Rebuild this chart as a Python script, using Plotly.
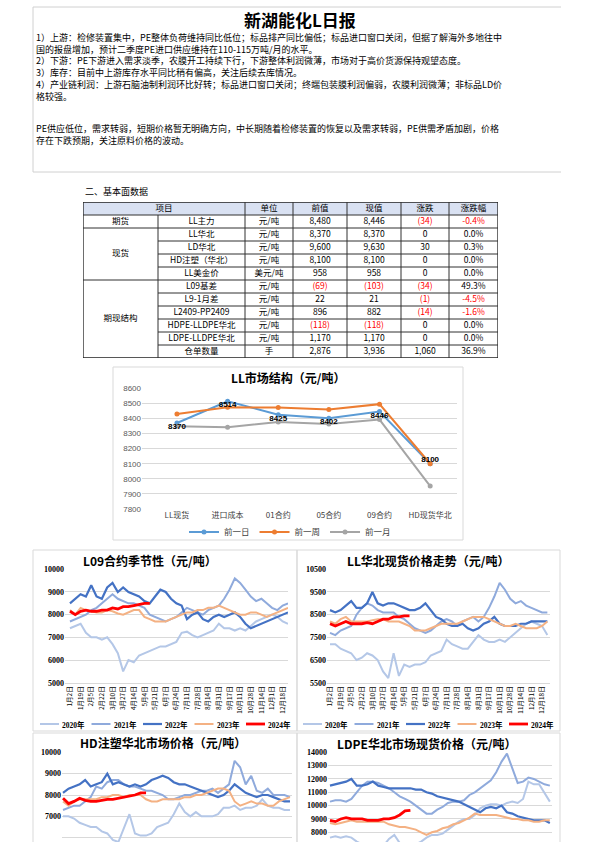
import plotly.graph_objects as go

W, H = 595, 842
def px(x): return x / W
def py(y): return 1 - y / H

CJK = "Noto Sans CJK SC"
SERIF = "Liberation Serif, Noto Sans CJK SC"

# ---------------- text ----------------
report_title = "新湖能化L日报"
report_block1 = [
    "1）上游：检修装置集中，PE整体负荷维持同比低位；标品排产同比偏低；标品进口窗口关闭，但据了解海外多地往中",
    "国的报盘增加，预计二季度PE进口供应维持在110-115万吨/月的水平。",
    "2）下游：PE下游进入需求淡季，农膜开工持续下行，下游整体利润微薄，市场对于高价货源保持观望态度。",
    "3）库存：目前中上游库存水平同比稍有偏高，关注后续去库情况。",
    "4）产业链利润：上游石脑油制利润环比好转；标品进口窗口关闭；终端包装膜利润偏弱，农膜利润微薄；非标品LD价",
    "格较强。",
]
report_block2 = [
    "PE供应低位，需求转弱，短期价格暂无明确方向，中长期随着检修装置的恢复以及需求转弱，PE供需矛盾加剧，价格",
    "存在下跌预期，关注原料价格的波动。",
]
section_title = "二、基本面数据"

# ---------------- table ----------------
table_header = ["项目", "单位", "前值", "现值", "涨跌", "涨跌幅"]
table_groups = ["期货", "现货", "期现结构"]
table_group_sizes = [1, 4, 6]
table_items = ["LL主力", "LL华北", "LD华北", "HD注塑（华北）", "LL美金价", "L09基差", "L9-1月差",
               "L2409-PP2409", "HDPE-LLDPE华北", "LDPE-LLDPE华北", "仓单数量"]
table_units = ["元/吨", "元/吨", "元/吨", "元/吨", "美元/吨", "元/吨", "元/吨", "元/吨", "元/吨", "元/吨", "手"]
table_prev = [8480, 8370, 9600, 8100, 958, -69, 22, 896, -118, 1170, 2876]
table_curr = [8446, 8370, 9630, 8100, 958, -103, 21, 882, -118, 1170, 3936]
table_change = [-34, 0, 30, 0, 0, -34, -1, -14, 0, 0, 1060]
table_pct = [-0.4, 0.0, 0.3, 0.0, 0.0, 49.3, -4.5, -1.6, 0.0, 0.0, 36.9]

# ---------------- LL market structure ----------------
struct_title = "LL市场结构（元/吨）"
struct_categories = ["LL现货", "进口成本", "01合约", "05合约", "09合约", "HD现货华北"]
struct_names = ["前一日", "前一周", "前一月"]
struct_day = [8370, 8514, 8425, 8402, 8446, 8100]
struct_week = [8430, 8474, 8472, 8460, 8495, 8100]
struct_month = [8348, 8342, 8376, 8364, 8393, 7952]

# ---------------- seasonal charts ----------------
season_years = ["2020年", "2021年", "2022年", "2023年", "2024年"]
season_dates = ["1月2日", "1月19日", "2月5日", "2月22日", "3月10日", "3月27日", "4月14日", "5月4日",
                "5月21日", "6月7日", "6月24日", "7月11日", "7月28日", "8月14日", "8月31日", "9月17日",
                "10月11日", "10月28日", "11月14日", "12月1日", "12月18日"]

l09_2020 = [7400, 7500, 7600, 7200, 7000, 7000, 6900, 7000, 6700, 6300, 5500, 6000, 5900, 6200, 6300, 6400,
            6500, 6600, 6600, 6700, 6800, 7200, 7250, 7100, 7000, 7100, 7200, 7300, 7600, 7400, 7400, 7300,
            7400, 7300, 7500, 7700, 7800, 7900, 8000, 7900, 7700, 7600]
l09_2021 = [7700, 7800, 7900, 8000, 8200, 8300, 8500, 8700, 8900, 8700, 8600, 8500, 8500, 8400, 8300, 8000,
            7900, 7800, 7700, 7800, 7900, 8100, 8300, 8200, 8100, 8000, 8200, 8300, 8400, 8700, 9100, 9600,
            9400, 9100, 8800, 8600, 8700, 8500, 8300, 8200, 8400, 8500]
l09_2022 = [8500, 8700, 8900, 8800, 9300, 8800, 8700, 9200, 9400, 9000, 9200, 9000, 8900, 8800, 8600, 8500,
            8800, 9100, 9000, 8700, 8500, 8400, 7800, 8000, 8100, 7800, 7700, 7900, 8000, 7900, 8000, 8100,
            7900, 7600, 7400, 7500, 7600, 7700, 7800, 7900, 8000, 8100]
l09_2023 = [8200, 8000, 8300, 8200, 8150, 8100, 8100, 8200, 8150, 8050, 8000, 8100, 8200, 8200, 7900, 7800,
            7700, 7700, 7700, 7800, 7900, 8000, 8100, 8100, 8200, 8200, 8300, 8300, 8400, 8300, 8200, 8100,
            8000, 8000, 8100, 8100, 8000, 7900, 8000, 8100, 8200, 8300]
l09_2024 = [8150, 8000, 8150, 8200, 8150, 8150, 8200, 8200, 8300, 8250, 8350, 8350, 8400, 8450, 8500, 8500]

ll_2020 = [7200, 7200, 7000, 6900, 6800, 6500, 6600, 6800, 6700, 6500, 6000, 5700, 6800, 5800, 6300, 6200,
           6300, 6300, 6400, 6700, 6800, 6900, 7400, 7200, 7100, 7000, 7000, 7300, 7600, 7400, 7300, 7300,
           7400, 7300, 7500, 7700, 7900, 8100, 8200, 8100, 8000, 7600]
ll_2021 = [7700, 7600, 7800, 7900, 8000, 8500, 8800, 9000, 8900, 8700, 8600, 8600, 8600, 8400, 8300, 8100,
           7900, 7800, 7700, 7800, 8000, 8200, 8300, 8200, 8000, 8200, 8300, 8400, 8200, 8400, 8800, 9300,
           9900, 9600, 9200, 9000, 9100, 8900, 8800, 8700, 8600, 8600]
ll_2022 = [8700, 8600, 8700, 8900, 9100, 8800, 8800, 9000, 9500, 9000, 8900, 9000, 9000, 8900, 8800, 8700,
           8700, 8800, 9000, 8700, 8400, 8300, 8100, 8000, 8000, 8100, 7900, 7800, 7900, 8100, 8200, 8400,
           8100, 8000, 8000, 8000, 8100, 8100, 8200, 8200, 8200, 8200]
ll_2023 = [8200, 8100, 8300, 8400, 8200, 8200, 8200, 8200, 8250, 8300, 8300, 8200, 8200, 8200, 8100, 8000,
           7800, 7800, 7800, 7900, 8000, 8100, 8100, 8100, 8100, 8200, 8300, 8400, 8400, 8400, 8300, 8200,
           8100, 8000, 8000, 8100, 8000, 7900, 7900, 7900, 8000, 8200]
ll_2024 = [8100, 8000, 8100, 8200, 8100, 8100, 8100, 8150, 8100, 8200, 8300, 8300, 8400, 8400, 8450, 8450]

hd_2020 = [7000, 7000, 6900, 6700, 6600, 6500, 6500, 6300, 6200, 5900, 5800, 6500, 7100, 6200, 6100, 6100,
           6200, 6500, 6600, 6700, 7100, 7600, 7200, 7000, 7200, 7000, 7000, 7000, 7100, 7400, 7400, 7500,
           7300, 7400, 7400, 7500, 7800, 7500, 7400, 7400, 7300, 7300]
hd_2021 = [7300, 7400, 7500, 7500, 7700, 7900, 8400, 8300, 8600, 8700, 8700, 8500, 8400, 8400, 8300, 8200,
           8200, 8100, 8000, 7800, 7800, 7900, 8000, 8000, 8100, 8200, 8200, 8300, 8100, 8300, 8500, 9600,
           9300, 8500, 8900, 8200, 8100, 8300, 8000, 8000, 8000, 7900]
hd_2022 = [8100, 8300, 8400, 8500, 8700, 8400, 8500, 8600, 9000, 8500, 8600, 8500, 8400, 8500, 8400, 8500,
           8700, 8800, 8900, 8800, 8600, 8500, 8500, 8400, 8300, 8200, 8100, 8000, 7900, 8000, 8200, 8500,
           8300, 8100, 8000, 7900, 8000, 8000, 7900, 7800, 7700, 7700]
hd_2023 = [7700, 7500, 7700, 7800, 7800, 7800, 7800, 7900, 7900, 8000, 8000, 7900, 8000, 8000, 8000, 7800,
           7700, 7700, 7800, 7800, 7800, 7800, 7900, 7900, 8000, 8000, 8100, 8200, 8300, 8300, 8200, 7700,
           7500, 7600, 7700, 7600, 7600, 7500, 7500, 7700, 7800, 7900]
hd_2024 = [7850, 7600, 7700, 7850, 7750, 7700, 7700, 7750, 7800, 7800, 7850, 7900, 7950, 8000, 8100, 8100]

ldpe_2020 = [7600, 7700, 7600, 7700, 7600, 7300, 7100, 7000, 6900, 6800, 7000, 7500, 7800, 7200, 7000, 7000,
             7100, 7300, 7600, 7800, 7800, 7900, 8200, 8500, 8800, 9000, 9000, 9300, 9800, 10000, 10100, 10100,
             10000, 10200, 10300, 10200, 10500, 11800, 11600, 11600, 11000, 10300]
ldpe_2021 = [10300, 10400, 10400, 10300, 10500, 11000, 11500, 11800, 11800, 11700, 11500, 11300, 11000, 10700,
             10500, 10300, 10000, 9700, 9400, 9400, 9700, 9900, 10200, 10300, 10300, 10400, 10800, 11000, 11300,
             11600, 11900, 12500, 13300, 13900, 12800, 11700, 11800, 12100, 12000, 11800, 11600, 11500]
ldpe_2022 = [11500, 11600, 11700, 11800, 12000, 11500, 11500, 11600, 11800, 11500, 11400, 11300, 11300, 11300,
             11300, 11300, 11200, 11200, 11000, 10900, 10700, 10600, 10500, 10400, 10300, 10100, 9900, 9700,
             9500, 9800, 9900, 9800, 10000, 9500, 9400, 9200, 9100, 9000, 8900, 8900, 8900, 8700]
ldpe_2023 = [8700, 8600, 8700, 8800, 8900, 8800, 8800, 8800, 8800, 8800, 8800, 8600, 8500, 8400, 8400, 8300,
             8200, 8000, 7800, 8000, 8100, 8300, 8400, 8600, 8700, 8900, 9100, 9400, 9300, 9300, 9300, 9300,
             9200, 9100, 9000, 9000, 8900, 8900, 8800, 8800, 8900, 8900]
ldpe_2024 = [8900, 8800, 9000, 9100, 9000, 9000, 9000, 8900, 8900, 8900, 9000, 9000, 9100, 9300, 9600, 9650]

STEP = 6          # trading days between samples
TICK_STEP = 12    # trading days between date labels

fig = go.Figure()
shapes, annotations = [], []

def box(x0, y0, x1, y1, color="#d9d9d9", width=1):
    shapes.append(dict(type="rect", xref="paper", yref="paper", x0=px(x0), y0=py(y1), x1=px(x1), y1=py(y0),
                       line=dict(color=color, width=width), fillcolor="rgba(0,0,0,0)", layer="below"))

def hline(x0, x1, y, color="#d0d0d0", width=1):
    shapes.append(dict(type="line", xref="paper", yref="paper", x0=px(x0), x1=px(x1), y0=py(y), y1=py(y),
                       line=dict(color=color, width=width)))

def text(x, y, s, size=9, xanchor="left", color="#000", family=CJK, weight="normal"):
    annotations.append(dict(x=px(x), y=py(y), xref="paper", yref="paper", text=s, showarrow=False,
                            xanchor=xanchor, yanchor="middle", align="left", borderpad=0,
                            font=dict(size=size, color=color, family=family, weight=weight)))

# ---- header text box ----
hline(33, 561, 7)
hline(33, 561, 172)
shapes.append(dict(type="line", xref="paper", yref="paper", x0=px(33), x1=px(33), y0=py(7), y1=py(172),
                   line=dict(color="#d0d0d0", width=1)))
text(300, 20, report_title, size=17, xanchor="center", weight="bold")
text(35, 67, "<br>".join(report_block1), size=9)
text(35, 135, "<br>".join(report_block2), size=9)
text(84, 192, section_title, size=9)

# ---- table (own axes x6/y6) ----
col_w = [75, 87, 48, 54, 54, 48, 49]
edges = [0]
for w in col_w:
    edges.append(edges[-1] + w)
TW = edges[-1]
nrows = len(table_items) + 1
centers = [(edges[i] + edges[i + 1]) / 2 for i in range(len(col_w))]
tl = dict(color="#303030", width=1)
def tshape(**kw):
    d = dict(xref="x6", yref="y6", line=tl)
    d.update(kw)
    shapes.append(d)
tshape(type="rect", x0=0, x1=TW, y0=0, y1=1, fillcolor="#d9e1f2", line=dict(width=0), layer="below")
tshape(type="rect", x0=0, x1=TW, y0=0, y1=nrows, line=dict(color="#202020", width=1.3))
tshape(type="line", x0=0, x1=TW, y0=1, y1=1)
for e in edges[2:-1]:
    tshape(type="line", x0=e, x1=e, y0=0, y1=nrows)
tshape(type="line", x0=edges[1], x1=edges[1], y0=1, y1=nrows)
group_bounds = [1]
for s in table_group_sizes:
    group_bounds.append(group_bounds[-1] + s)
for r in range(2, nrows):
    x0 = 0 if r in group_bounds else edges[1]
    tshape(type="line", x0=x0, x1=TW, y0=r, y1=r)

def fmt(v):
    return f"({abs(v):,})" if v < 0 else f"{v:,}"
tx, ty, tt, tc = [], [], [], []
def cell(x, y, s, c="#000"):
    tx.append(x); ty.append(y); tt.append(s); tc.append(c)
cell((edges[0] + edges[2]) / 2, 0.5, table_header[0])
for j, h in enumerate(table_header[1:]):
    cell(centers[j + 2], 0.5, h)
for g, s, b in zip(table_groups, table_group_sizes, group_bounds):
    cell(centers[0], b + s / 2, g)
red = "#ff0000"
for i in range(len(table_items)):
    yc = i + 1.5
    cell(centers[1], yc, table_items[i])
    cell(centers[2], yc, table_units[i])
    cell(centers[3], yc, fmt(table_prev[i]), red if table_prev[i] < 0 else "#000")
    cell(centers[4], yc, fmt(table_curr[i]), red if table_curr[i] < 0 else "#000")
    cell(centers[5], yc, fmt(table_change[i]), red if table_change[i] < 0 else "#000")
    cell(centers[6], yc, f"{table_pct[i]:.1f}%", red if table_pct[i] < 0 else "#000")
fig.add_trace(go.Scatter(x=tx, y=ty, text=tt, mode="text", textposition="middle center",
                         textfont=dict(size=8.5, color=tc, family=CJK), xaxis="x6", yaxis="y6",
                         showlegend=False, hoverinfo="skip"))

# ---- LL market structure chart ----
box(113, 367, 463, 540)
text(288, 377, struct_title, size=12, xanchor="center", weight="bold")
struct_colors = ["#5b9bd5", "#ed7d31", "#a5a5a5"]
for name, vals, col in zip(struct_names, [struct_day, struct_week, struct_month], struct_colors):
    fig.add_trace(go.Scatter(x=struct_categories, y=vals, name=name, mode="lines+markers",
                             line=dict(color=col, width=2), marker=dict(size=5, color=col),
                             xaxis="x", yaxis="y"))
fig.add_trace(go.Scatter(x=struct_categories, y=struct_day, mode="text", text=[str(v) for v in struct_day],
                         textposition=["bottom center"] * 5 + ["top center"],
                         textfont=dict(size=8, color="#000", family="Liberation Sans", weight="bold"),
                         xaxis="x", yaxis="y", showlegend=False, hoverinfo="skip"))

# ---- seasonal charts ----
season_colors = ["#b4c7e7", "#8faadc", "#4472c4", "#f4b183", "#ff0000"]
season_widths = [2, 2, 2.2, 2, 2.8]
charts = [
    ("L09合约季节性（元/吨）", [l09_2020, l09_2021, l09_2022, l09_2023, l09_2024], "2", (150, 560)),
    ("LL华北现货价格走势（元/吨）", [ll_2020, ll_2021, ll_2022, ll_2023, ll_2024], "3", (428, 560)),
    ("HD注塑华北市场价格（元/吨）", [hd_2020, hd_2021, hd_2022, hd_2023, hd_2024], "4", (163, 742)),
    ("LDPE华北市场现货价格（元/吨）", [ldpe_2020, ldpe_2021, ldpe_2022, ldpe_2023, ldpe_2024], "5", (427, 743)),
]
for title, series, ax, (tx0, ty0) in charts:
    text(tx0, ty0, title, size=12, xanchor="center", weight="bold")
    for name, vals, col, w in zip(season_years, series, season_colors, season_widths):
        fig.add_trace(go.Scatter(x=[i * STEP for i in range(len(vals))], y=vals, name=name, mode="lines",
                                 line=dict(color=col, width=w), xaxis="x" + ax, yaxis="y" + ax,
                                 showlegend=False))
box(33, 550, 297, 731)
box(297, 550, 560, 731)
box(33, 733, 297, 860)
box(297, 733, 560, 860)

# custom legends for the seasonal charts
for lx0 in (40, 303):
    for k, (name, col, w) in enumerate(zip(season_years, season_colors, season_widths)):
        x0 = lx0 + k * 51.5
        shapes.append(dict(type="line", xref="paper", yref="paper", x0=px(x0), x1=px(x0 + 19),
                           y0=py(724), y1=py(724), line=dict(color=col, width=w)))
        text(x0 + 21, 724.5, name, size=7.5, family=SERIF, weight="bold")

# ---- axes ----
ytick_font = dict(size=8, family="Liberation Serif", color="#000", weight="bold")
def season_x(dom, rng, show=True):
    return dict(domain=[px(dom[0]), px(dom[1])], range=list(rng),
                tickvals=[j * TICK_STEP for j in range(len(season_dates))], ticktext=season_dates,
                tickangle=-90, tickfont=dict(size=6.5, family=CJK, color="#000"),
                showticklabels=show, showgrid=False, zeroline=False, showline=True, linecolor="#d9d9d9",
                ticks="", fixedrange=True)
def season_y(dom, rng):
    return dict(domain=[dom[0], dom[1]], range=list(rng), tick0=0, dtick=1000, showgrid=True,
                gridcolor="#d9d9d9", gridwidth=1, zeroline=False, showline=False, ticks="",
                tickformat="d", tickfont=ytick_font, fixedrange=True)

layout = dict(
    width=W, height=H, margin=dict(l=0, r=0, t=0, b=0), template="none",
    paper_bgcolor="white", plot_bgcolor="white",
    showlegend=True,
    legend=dict(orientation="h", x=px(290), xanchor="center", y=py(532), yanchor="middle",
                font=dict(size=8.5, family=CJK, color="#404040"), itemwidth=30, bgcolor="rgba(0,0,0,0)"),
    xaxis=dict(domain=[px(142), px(457)], range=[-0.69, 5.53], showgrid=False, zeroline=False,
               showline=False, ticks="", tickfont=dict(size=8, family=CJK, color="#404040"), fixedrange=True,
               anchor="y"),
    yaxis=dict(domain=[py(509), py(388.3)], range=[7800, 8600], dtick=100, showgrid=True,
               gridcolor="#d9d9d9", zeroline=False, showline=False, ticks="", tickformat="d",
               tickfont=dict(size=8, family="Liberation Sans", color="#595959"), fixedrange=True, anchor="x"),
    xaxis2=dict(season_x((65, 288), (-5.6, 246)), anchor="y2"),
    yaxis2=dict(season_y((py(682.7), py(569.3)), (5000, 10000)), anchor="x2"),
    xaxis3=dict(season_x((327, 550), (-3.4, 249)), anchor="y3"),
    yaxis3=dict(season_y((py(682.7), py(569.3)), (5500, 10500)), tick0=500, anchor="x3"),
    xaxis4=dict(season_x((62, 292), (-1.1, 248.2), show=False), anchor="y4"),
    yaxis4=dict(season_y((0, py(752.3)), (5800, 10000)), anchor="x4"),
    xaxis5=dict(season_x((328, 552), (-2.2, 248.4), show=False), anchor="y5"),
    yaxis5=dict(season_y((0, py(752.3)), (7272, 14000)), anchor="x5"),
    xaxis6=dict(domain=[px(83), px(498)], range=[0, TW], visible=False, fixedrange=True, anchor="y6"),
    yaxis6=dict(domain=[py(358), py(202)], range=[nrows, 0], visible=False, fixedrange=True, anchor="x6"),
    shapes=shapes, annotations=annotations,
)
fig.update_layout(**layout)
fig.write_html("out.html", config={"displayModeBar": False},
               post_script="document.body.style.margin='0';document.body.style.overflow='hidden';")
